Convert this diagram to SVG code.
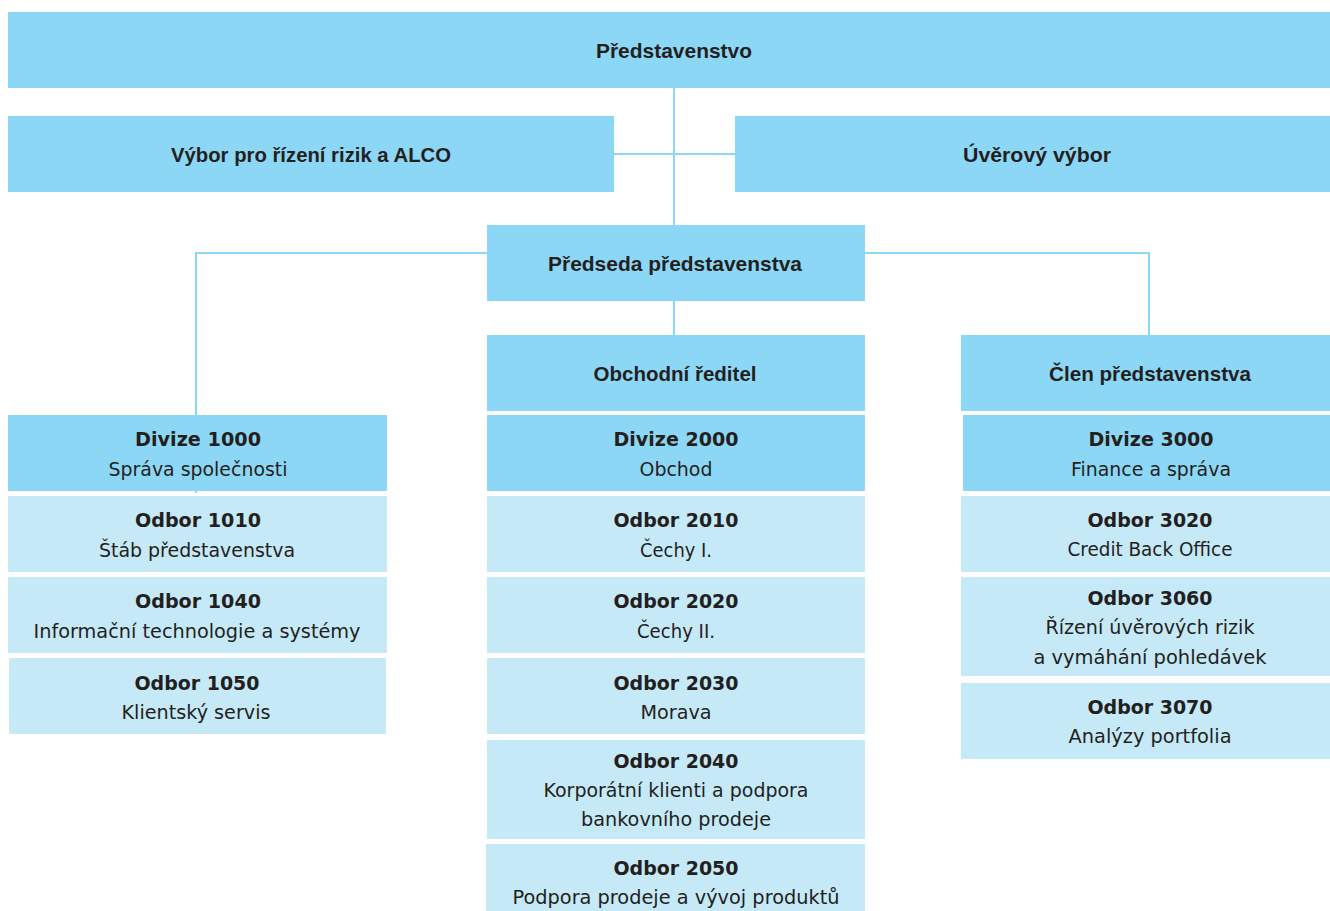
<svg xmlns="http://www.w3.org/2000/svg" width="1330" height="911" viewBox="0 0 1330 911">
<style>
.dk{fill:#8dd7f6}
.lt{fill:#c6e9f8}
.h{font-family:"Liberation Sans",Arial,sans-serif;font-weight:bold;font-size:21px;fill:#231f20;text-anchor:middle}
.b{font-family:"DejaVu Sans",Verdana,sans-serif;font-weight:bold;font-size:20px;fill:#231f20;text-anchor:middle}
.r{font-family:"DejaVu Sans",Verdana,sans-serif;font-size:20px;fill:#231f20;text-anchor:middle}
.c{fill:none;stroke:#8dd7f6;stroke-width:2}
</style>
<rect width="1330" height="911" fill="#ffffff"/>
<g id="connectors">
<path class="c" d="M674 88V225"/>
<path class="c" d="M614 154H735"/>
<path class="c" d="M487 253H196V493"/>
<path class="c" d="M865 253H1149V335"/>
<path class="c" d="M674 300V335"/>
</g>
<g id="predstavenstvo"><rect class="dk" x="8" y="12" width="1322" height="76"/><text class="h" x="674" y="58" textLength="156" lengthAdjust="spacingAndGlyphs">Představenstvo</text></g>
<g id="vybor-rizik"><rect class="dk" x="8" y="116" width="606" height="76"/><text class="h" x="311" y="162" textLength="280" lengthAdjust="spacingAndGlyphs">Výbor pro řízení rizik a ALCO</text></g>
<g id="uverovy-vybor"><rect class="dk" x="735" y="116" width="595" height="76"/><text class="h" x="1037" y="162" textLength="148" lengthAdjust="spacingAndGlyphs">Úvěrový výbor</text></g>
<g id="predseda"><rect class="dk" x="487" y="225" width="378" height="76"/><text class="h" x="675" y="271" textLength="254" lengthAdjust="spacingAndGlyphs">Předseda představenstva</text></g>
<g id="obchodni-reditel"><rect class="dk" x="487" y="335" width="378" height="76"/><text class="h" x="675" y="381" textLength="163" lengthAdjust="spacingAndGlyphs">Obchodní ředitel</text></g>
<g id="clen-predstavenstva"><rect class="dk" x="961" y="335" width="369" height="76"/><text class="h" x="1150" y="381" textLength="202" lengthAdjust="spacingAndGlyphs">Člen představenstva</text></g>

<g id="divize-1000"><rect class="dk" x="8" y="415" width="379" height="76"/><text class="b" x="198" y="446" textLength="126" lengthAdjust="spacingAndGlyphs">Divize 1000</text><text class="r" x="198" y="476" textLength="179" lengthAdjust="spacingAndGlyphs">Správa společnosti</text></g>
<g id="odbor-1010"><rect class="lt" x="8" y="496" width="379" height="76"/><text class="b" x="198" y="527" textLength="126" lengthAdjust="spacingAndGlyphs">Odbor 1010</text><text class="r" x="197" y="557" textLength="196" lengthAdjust="spacingAndGlyphs">Štáb představenstva</text></g>
<g id="odbor-1040"><rect class="lt" x="8" y="577" width="379" height="76"/><text class="b" x="198" y="608" textLength="126" lengthAdjust="spacingAndGlyphs">Odbor 1040</text><text class="r" x="197" y="638" textLength="327" lengthAdjust="spacingAndGlyphs">Informační technologie a systémy</text></g>
<g id="odbor-1050"><rect class="lt" x="9" y="658" width="377" height="76"/><text class="b" x="197" y="690" textLength="125" lengthAdjust="spacingAndGlyphs">Odbor 1050</text><text class="r" x="196" y="719" textLength="149" lengthAdjust="spacingAndGlyphs">Klientský servis</text></g>

<g id="divize-2000"><rect class="dk" x="487" y="415" width="378" height="76"/><text class="b" x="676" y="446" textLength="125" lengthAdjust="spacingAndGlyphs">Divize 2000</text><text class="r" x="676" y="476" textLength="73" lengthAdjust="spacingAndGlyphs">Obchod</text></g>
<g id="odbor-2010"><rect class="lt" x="487" y="496" width="378" height="76"/><text class="b" x="676" y="527" textLength="125" lengthAdjust="spacingAndGlyphs">Odbor 2010</text><text class="r" x="676" y="557" textLength="72" lengthAdjust="spacingAndGlyphs">Čechy I.</text></g>
<g id="odbor-2020"><rect class="lt" x="487" y="577" width="378" height="76"/><text class="b" x="676" y="608" textLength="125" lengthAdjust="spacingAndGlyphs">Odbor 2020</text><text class="r" x="676" y="638" textLength="78" lengthAdjust="spacingAndGlyphs">Čechy II.</text></g>
<g id="odbor-2030"><rect class="lt" x="487" y="658" width="378" height="76"/><text class="b" x="676" y="690" textLength="125" lengthAdjust="spacingAndGlyphs">Odbor 2030</text><text class="r" x="676" y="719" textLength="71" lengthAdjust="spacingAndGlyphs">Morava</text></g>
<g id="odbor-2040"><rect class="lt" x="487" y="740" width="378" height="99"/><text class="b" x="676" y="768" textLength="125" lengthAdjust="spacingAndGlyphs">Odbor 2040</text><text class="r" x="676" y="797" textLength="265" lengthAdjust="spacingAndGlyphs">Korporátní klienti a podpora</text><text class="r" x="676" y="826" textLength="190" lengthAdjust="spacingAndGlyphs">bankovního prodeje</text></g>
<g id="odbor-2050"><rect class="lt" x="486" y="844" width="379" height="67"/><text class="b" x="676" y="875" textLength="125" lengthAdjust="spacingAndGlyphs">Odbor 2050</text><text class="r" x="676" y="904" textLength="327" lengthAdjust="spacingAndGlyphs">Podpora prodeje a vývoj produktů</text></g>

<g id="divize-3000"><rect class="dk" x="963" y="415" width="367" height="76"/><text class="b" x="1151" y="446" textLength="125" lengthAdjust="spacingAndGlyphs">Divize 3000</text><text class="r" x="1151" y="476" textLength="160" lengthAdjust="spacingAndGlyphs">Finance a správa</text></g>
<g id="odbor-3020"><rect class="lt" x="961" y="496" width="369" height="76"/><text class="b" x="1150" y="527" textLength="125" lengthAdjust="spacingAndGlyphs">Odbor 3020</text><text class="r" x="1150" y="556" textLength="165" lengthAdjust="spacingAndGlyphs">Credit Back Office</text></g>
<g id="odbor-3060"><rect class="lt" x="961" y="577" width="369" height="99"/><text class="b" x="1150" y="605" textLength="125" lengthAdjust="spacingAndGlyphs">Odbor 3060</text><text class="r" x="1150" y="634" textLength="209" lengthAdjust="spacingAndGlyphs">Řízení úvěrových rizik</text><text class="r" x="1150" y="664" textLength="233" lengthAdjust="spacingAndGlyphs">a vymáhání pohledávek</text></g>
<g id="odbor-3070"><rect class="lt" x="961" y="683" width="369" height="76"/><text class="b" x="1150" y="714" textLength="125" lengthAdjust="spacingAndGlyphs">Odbor 3070</text><text class="r" x="1150" y="743" textLength="163" lengthAdjust="spacingAndGlyphs">Analýzy portfolia</text></g>
</svg>
